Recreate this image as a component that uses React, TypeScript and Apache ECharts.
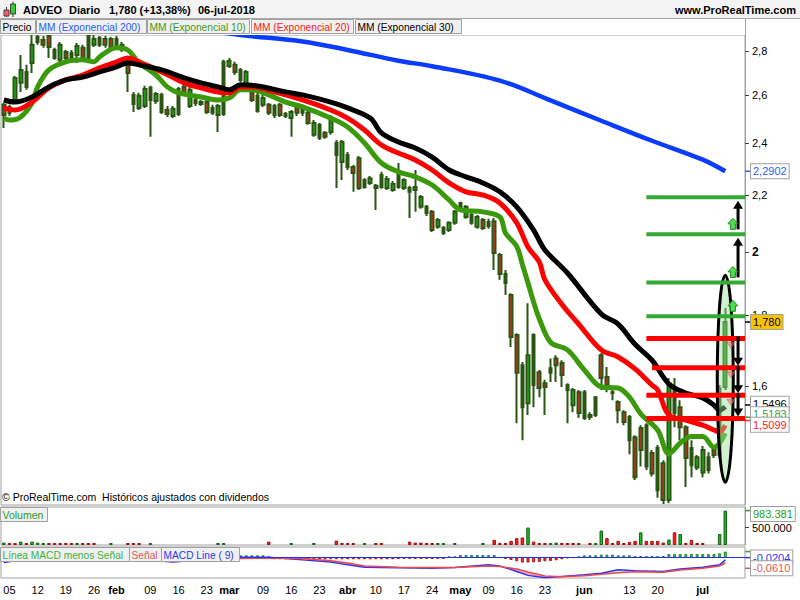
import React, { useEffect, useRef } from "react";
import * as echarts from "echarts";

const FONT = '"Liberation Sans", Arial, Helvetica, sans-serif';

// ---------- categories (BME trading days, 2018) ----------
const tradingDays: [number, number[]][] = [
  [1, [4, 5, 8, 9, 10, 11, 12, 15, 16, 17, 18, 19, 22, 23, 24, 25, 26, 29, 30, 31]],
  [2, [1, 2, 5, 6, 7, 8, 9, 12, 13, 14, 15, 16, 19, 20, 21, 22, 23, 26, 27, 28]],
  [3, [1, 2, 5, 6, 7, 8, 9, 12, 13, 14, 15, 16, 19, 20, 21, 22, 23, 26, 27, 28, 29]],
  [4, [3, 4, 5, 6, 9, 10, 11, 12, 13, 16, 17, 18, 19, 20, 23, 24, 25, 26, 27, 30]],
  [5, [2, 3, 4, 7, 8, 9, 10, 11, 14, 15, 16, 17, 18, 21, 22, 23, 24, 25, 28, 29, 30, 31]],
  [6, [1, 4, 5, 6, 7, 8, 11, 12, 13, 14, 15, 18, 19, 20, 21, 22, 25, 26, 27, 28, 29]],
  [7, [2, 3, 4, 5, 6, 9, 10, 11]],
];
const pad = (n: number) => String(n).padStart(2, "0");
const categories: string[] = tradingDays.flatMap(([m, ds]) => ds.map((d) => `2018-${pad(m)}-${pad(d)}`));

const xTickLabels: [string, string][] = [
  ["2018-01-05", "05"], ["2018-01-12", "12"], ["2018-01-19", "19"], ["2018-01-26", "26"],
  ["2018-02-01", "feb"], ["2018-02-09", "09"], ["2018-02-16", "16"], ["2018-02-23", "23"],
  ["2018-03-01", "mar"], ["2018-03-09", "09"], ["2018-03-16", "16"], ["2018-03-23", "23"],
  ["2018-04-03", "abr"], ["2018-04-10", "10"], ["2018-04-17", "17"], ["2018-04-24", "24"],
  ["2018-05-02", "may"], ["2018-05-09", "09"], ["2018-05-16", "16"], ["2018-05-23", "23"],
  ["2018-06-01", "jun"], ["2018-06-13", "13"], ["2018-06-20", "20"], ["2018-07-02", "jul"],
];
const monthNames = ["feb", "mar", "abr", "may", "jun", "jul"];

// ---------- price data: [open, close, low, high] ----------
const candles: number[][] = [
  [2.559, 2.516, 2.462, 2.567], [2.525, 2.550, 2.512, 2.559], [2.580, 2.677, 2.576, 2.686], [2.655, 2.713, 2.615, 2.782],
  [2.637, 2.704, 2.624, 2.736], [2.745, 2.829, 2.699, 2.876], [2.842, 2.866, 2.829, 2.876], [2.852, 2.829, 2.815, 2.871],
  [2.871, 2.819, 2.768, 2.876], [2.768, 2.805, 2.759, 2.815], [2.759, 2.829, 2.745, 2.843], [2.796, 2.768, 2.750, 2.805],
  [2.759, 2.791, 2.750, 2.805], [2.782, 2.824, 2.745, 2.838], [2.815, 2.768, 2.759, 2.829], [2.768, 2.871, 2.759, 2.881],
  [2.829, 2.857, 2.819, 2.876], [2.862, 2.829, 2.819, 2.871], [2.857, 2.829, 2.815, 2.871], [2.857, 2.819, 2.805, 2.866],
  [2.815, 2.857, 2.805, 2.871], [2.829, 2.815, 2.796, 2.843], [2.750, 2.699, 2.615, 2.768], [2.563, 2.602, 2.529, 2.615],
  [2.546, 2.598, 2.537, 2.611], [2.554, 2.628, 2.546, 2.642], [2.633, 2.580, 2.426, 2.642], [2.576, 2.606, 2.563, 2.615],
  [2.602, 2.529, 2.520, 2.611], [2.537, 2.520, 2.508, 2.554], [2.512, 2.542, 2.503, 2.554], [2.520, 2.628, 2.512, 2.637],
  [2.637, 2.611, 2.602, 2.646], [2.554, 2.624, 2.546, 2.637], [2.580, 2.567, 2.554, 2.589], [2.571, 2.563, 2.554, 2.580],
  [2.571, 2.529, 2.520, 2.580], [2.525, 2.546, 2.516, 2.559], [2.516, 2.554, 2.446, 2.563], [2.520, 2.750, 2.512, 2.759],
  [2.731, 2.754, 2.722, 2.768], [2.736, 2.704, 2.690, 2.750], [2.713, 2.668, 2.659, 2.722], [2.624, 2.704, 2.615, 2.713],
  [2.615, 2.580, 2.571, 2.624], [2.533, 2.598, 2.525, 2.611], [2.559, 2.589, 2.550, 2.602], [2.559, 2.525, 2.516, 2.567],
  [2.554, 2.516, 2.503, 2.563], [2.559, 2.516, 2.508, 2.567], [2.520, 2.512, 2.503, 2.529], [2.503, 2.529, 2.426, 2.537],
  [2.554, 2.525, 2.512, 2.563], [2.550, 2.525, 2.512, 2.559], [2.525, 2.483, 2.475, 2.533], [2.434, 2.483, 2.426, 2.495],
  [2.475, 2.422, 2.413, 2.483], [2.442, 2.426, 2.418, 2.450], [2.446, 2.495, 2.434, 2.516], [2.401, 2.353, 2.227, 2.413],
  [2.326, 2.405, 2.257, 2.413], [2.353, 2.307, 2.295, 2.365], [2.307, 2.284, 2.213, 2.314], [2.341, 2.227, 2.220, 2.349],
  [2.231, 2.257, 2.224, 2.264], [2.246, 2.264, 2.238, 2.272], [2.235, 2.227, 2.147, 2.242], [2.231, 2.276, 2.224, 2.288],
  [2.227, 2.261, 2.220, 2.272], [2.220, 2.242, 2.213, 2.253], [2.276, 2.231, 2.224, 2.322], [2.227, 2.257, 2.220, 2.264],
  [2.227, 2.213, 2.118, 2.235], [2.220, 2.231, 2.140, 2.295], [2.158, 2.194, 2.151, 2.201], [2.136, 2.158, 2.125, 2.165],
  [2.140, 2.076, 2.069, 2.147], [2.087, 2.111, 2.080, 2.118], [2.066, 2.083, 2.059, 2.090], [2.076, 2.101, 2.069, 2.107],
  [2.101, 2.140, 2.094, 2.147], [2.172, 2.154, 2.140, 2.176], [2.122, 2.158, 2.115, 2.165], [2.101, 2.129, 2.094, 2.136],
  [2.087, 2.122, 2.080, 2.129], [2.111, 2.083, 2.076, 2.118], [2.104, 2.090, 2.080, 2.115], [2.107, 1.998, 1.942, 2.118],
  [1.991, 1.929, 1.910, 1.998], [1.929, 1.900, 1.862, 1.942], [1.862, 1.736, 1.707, 1.868], [1.742, 1.635, 1.503, 1.747],
  [1.656, 1.544, 1.461, 1.665], [1.554, 1.684, 1.524, 1.837], [1.742, 1.602, 1.544, 1.747], [1.637, 1.594, 1.570, 1.643],
  [1.607, 1.597, 1.524, 1.616], [1.635, 1.648, 1.610, 1.675], [1.675, 1.656, 1.610, 1.684], [1.662, 1.629, 1.597, 1.670],
  [1.602, 1.589, 1.503, 1.607], [1.549, 1.589, 1.531, 1.594], [1.583, 1.529, 1.516, 1.589], [1.583, 1.516, 1.511, 1.589],
  [1.519, 1.524, 1.511, 1.531], [1.524, 1.570, 1.519, 1.573], [1.684, 1.621, 1.589, 1.690], [1.624, 1.602, 1.583, 1.651],
  [1.583, 1.581, 1.562, 1.594], [1.557, 1.536, 1.503, 1.562], [1.531, 1.506, 1.498, 1.536], [1.519, 1.461, 1.427, 1.524],
  [1.468, 1.373, 1.367, 1.473], [1.491, 1.437, 1.398, 1.498], [1.498, 1.398, 1.390, 1.503], [1.430, 1.382, 1.375, 1.437],
  [1.442, 1.344, 1.327, 1.449], [1.406, 1.322, 1.313, 1.413], [1.322, 1.607, 1.315, 1.621], [1.589, 1.529, 1.493, 1.621],
  [1.544, 1.493, 1.461, 1.562], [1.493, 1.418, 1.351, 1.498], [1.401, 1.442, 1.373, 1.461], [1.396, 1.420, 1.390, 1.425],
  [1.384, 1.437, 1.373, 1.447], [1.390, 1.420, 1.382, 1.432], [1.437, 1.425, 1.418, 1.447], [1.425, 1.592, 1.418, 1.602],
  [1.597, 1.780, 1.589, 1.822],
];

// ---------- moving averages: [bar index, value] ----------
const ema200: number[][] = [
  [35, 2.905], [42, 2.876], [53, 2.845], [61, 2.805], [70, 2.755], [76, 2.730], [88, 2.665], [97, 2.578],
  [106, 2.492], [115, 2.410], [124, 2.335], [128, 2.290],
];
const ema10: number[][] = [
  [0, 2.503], [1, 2.495], [3, 2.508], [5, 2.567], [6, 2.637], [8, 2.713], [11, 2.750], [14, 2.759], [16, 2.750],
  [17, 2.773], [20, 2.815], [22, 2.805], [24, 2.745], [27, 2.690], [29, 2.637], [31, 2.611], [35, 2.593], [38, 2.580],
  [40, 2.589], [42, 2.624], [44, 2.624], [47, 2.602], [50, 2.571], [53, 2.550], [58, 2.503], [61, 2.466], [64, 2.401],
  [67, 2.322], [70, 2.288], [73, 2.269], [76, 2.238], [79, 2.183], [81, 2.147], [85, 2.140], [88, 2.122], [89, 2.066],
  [91, 2.020], [92, 1.960], [93, 1.900], [94, 1.840], [95, 1.790], [97, 1.721], [100, 1.699], [103, 1.643], [106, 1.597],
  [109, 1.594], [111, 1.570], [113, 1.527], [116, 1.486], [118, 1.428], [120, 1.454], [122, 1.470], [124, 1.470],
  [126, 1.444], [127, 1.454], [128, 1.478],
];
const ema20: number[][] = [
  [0, 2.546], [2, 2.537], [5, 2.571], [8, 2.633], [11, 2.668], [14, 2.690], [17, 2.722], [20, 2.750], [22, 2.768],
  [24, 2.750], [28, 2.704], [32, 2.655], [35, 2.633], [38, 2.615], [40, 2.611], [42, 2.637], [44, 2.637], [48, 2.615],
  [53, 2.580], [58, 2.537], [61, 2.503], [64, 2.454], [67, 2.393], [70, 2.361], [73, 2.334], [76, 2.295], [79, 2.246],
  [82, 2.213], [85, 2.201], [88, 2.172], [91, 2.101], [93, 2.018], [95, 1.968], [96, 1.910], [99, 1.834], [102, 1.774],
  [106, 1.699], [109, 1.679], [112, 1.646], [115, 1.602], [116, 1.589], [118, 1.524], [121, 1.511], [124, 1.498],
  [126, 1.486], [127, 1.481], [128, 1.498],
];
const ema30: number[][] = [
  [0, 2.580], [2, 2.571], [5, 2.593], [8, 2.637], [11, 2.668], [14, 2.681], [17, 2.704], [20, 2.727], [22, 2.745],
  [24, 2.736], [28, 2.713], [32, 2.677], [35, 2.655], [38, 2.637], [40, 2.624], [42, 2.646], [45, 2.641], [50, 2.615],
  [53, 2.602], [58, 2.571], [61, 2.546], [65, 2.503], [67, 2.442], [70, 2.405], [73, 2.381], [76, 2.345], [79, 2.295],
  [82, 2.269], [85, 2.246], [88, 2.213], [91, 2.158], [94, 2.076], [96, 2.008], [100, 1.932], [106, 1.804], [109, 1.774],
  [112, 1.715], [115, 1.670], [118, 1.605], [121, 1.581], [124, 1.568], [126, 1.549], [127, 1.536], [128, 1.545],
];

// ---------- volume ----------
const volumes: number[] = [
  68000, 38000, 50000, 97000, 50000, 97000, 68000, 38000, 29000, 20000,
  20000, 20000, 20000, 20000, 20000, 20000, 20000, 0, 0, 20000,
  0, 0, 20000, 20000, 20000, 0, 20000, 0, 0, 0,
  0, 0, 0, 0, 0, 0, 0, 0, 20000, 20000,
  0, 0, 0, 0, 0, 0, 0, 97000, 0, 0,
  0, 20000, 0, 0, 0, 20000, 0, 0, 0, 126000,
  20000, 20000, 20000, 0, 20000, 0, 20000, 20000, 0, 0,
  0, 0, 97000, 68000, 68000, 38000, 50000, 20000, 20000, 0,
  20000, 0, 0, 0, 0, 20000, 0, 147000, 50000, 50000,
  118000, 197000, 215000, 500000, 97000, 50000, 29000, 50000, 68000, 29000,
  20000, 20000, 20000, 0, 29000, 29000, 412000, 197000, 50000, 118000,
  50000, 88000, 118000, 362000, 118000, 118000, 118000, 68000, 156000, 362000,
  315000, 50000, 147000, 38000, 29000, 0, 0, 315000, 983381,
];
const volumeDirection =
  "udduduuudd" + "dddudddddu" + "dddddduddd" + "dddddddduu" + "dddddddddd" + "dudddudddd" +
  "dddduddddd" + "ddddddduud" + "uddddudddd" + "ddduddduud" + "ddddduuddd" + "ddduddddud" + "udddddduu";

// ---------- MACD ----------
const macdHist: number[] = [
  0.005, 0.005, 0.005, 0.005, 0.005, 0.005, 0.005, 0.005, 0.005, 0.005,
  0.005, 0.005, 0.005, 0.005, 0.005, 0.005, 0.005, 0.005, 0.005, 0.005,
  0.005, -0.005, -0.005, -0.005, -0.005, -0.005, -0.005, -0.005, -0.005, -0.005,
  -0.005, -0.005, -0.005, -0.005, -0.005, -0.005, -0.005, -0.005, -0.005, -0.005,
  -0.005, -0.005, 0.014, 0.014, 0.014, 0.014, 0.014, 0.003, -0.014, -0.014,
  -0.014, -0.014, -0.014, -0.014, -0.014, -0.014, -0.014, -0.014, -0.014, -0.014,
  -0.014, -0.014, -0.014, -0.014, -0.014, -0.014, -0.014, -0.014, -0.014, -0.014,
  -0.012, -0.012, -0.012, -0.012, -0.012, -0.012, -0.012, -0.012, -0.012, 0.004,
  0.004, 0.016, 0.016, 0.016, 0.016, 0.016, 0.016, 0.016, -0.004, -0.012,
  -0.019, -0.028, -0.037, -0.037, -0.035, -0.033, -0.028, -0.026, -0.021, -0.014,
  -0.007, -0.004, 0.003, 0.014, 0.014, 0.014, 0.019, 0.019, 0.019, 0.014,
  0.014, 0.014, 0.009, 0.009, 0.009, 0.009, 0.009, 0.009, 0.023, 0.023,
  0.023, 0.023, 0.023, 0.023, 0.023, 0.023, 0.023, 0.028, 0.040,
];
const macdIdx = [0, 3, 15, 30, 42, 47, 53, 58, 61, 64, 70, 76, 80, 86, 88, 91, 93, 96, 99, 103, 106, 109, 112, 117, 120, 124, 127, 128];
const macdLine = [-0.039, -0.029, -0.012, -0.037, -0.019, -0.019, -0.029, -0.037, -0.048, -0.057, -0.059, -0.061, -0.058, -0.048,
  -0.052, -0.073, -0.088, -0.097, -0.092, -0.086, -0.080, -0.067, -0.070, -0.073, -0.064, -0.057, -0.048, -0.029];
const signalLine = [-0.033, -0.030, -0.018, -0.030, -0.024, -0.022, -0.024, -0.032, -0.041, -0.052, -0.057, -0.058, -0.058, -0.052,
  -0.054, -0.064, -0.075, -0.090, -0.093, -0.089, -0.084, -0.078, -0.074, -0.076, -0.068, -0.061, -0.052, -0.041];

// ---------- axis values ----------
const priceTicks = [1.6, 1.8, 2, 2.2, 2.4, 2.6, 2.8];
const priceRange = [1.311, 2.876];
const volumeTicks = [500000];
const volumeMax = 1086000;
const histRange = [-0.1449, 0.0721];
const macdRange = [-0.098, 0.02];

// ---------- drawn levels ----------
const greenLevels = [2.193, 2.061, 1.902, 1.797];
const redLevels = [1.732, 1.649, 1.575, 1.515];
const greenLevelStart = [114, 114, 114, 114];
const redLevelStart = [114, 115, 114, 114];
const ellipseRange = [1.362, 1.925];

// ---------- last-value labels ----------
const lastValues = [2.2902, 1.78, 1.5496, 1.5183, 1.5099];
const lastValueTexts = ["2,2902", "1,780", "1,5496", "1,5183", "1,5099"];
const volumeLast = 983381;
const macdLastValues = [-0.0204, -0.061];

const ln = Math.log;
const fmtThousands = (v: number) => String(Math.round(v)).replace(/\B(?=(\d{3})+(?!\d))/g, ".");

function buildOption(): any {
  const tickMap = new Map(xTickLabels);
  const xAxisBase = (gi: number, showLabels: boolean) => ({
    type: "category",
    gridIndex: gi,
    data: categories,
    boundaryGap: true,
    axisLine: { show: false },
    axisTick: { show: false },
    splitLine: { show: false },
    axisLabel: showLabels
      ? {
          show: true,
          interval: (_i: number, v: string) => tickMap.has(v),
          formatter: (v: string) => {
            const t = tickMap.get(v) || "";
            return monthNames.includes(t) ? `{b|${t}}` : t;
          },
          color: "#000",
          fontSize: 11,
          fontFamily: FONT,
          margin: 6,
          rich: { b: { fontWeight: "bold", fontSize: 11, fontFamily: FONT, color: "#000" } },
        }
      : { show: false },
  });
  const gridStyle = { show: true, borderColor: "#a0a0a0", borderWidth: 1, backgroundColor: "rgba(0,0,0,0)" };
  const upC = "#18d018";
  const dnC = "#ff2424";

  return {
    animation: false,
    backgroundColor: "#ffffff",
    textStyle: { fontFamily: FONT },
    grid: [
      { left: 1, top: 35, width: 744, height: 470, ...gridStyle },
      { left: 1, top: 507, width: 744, height: 38, ...gridStyle },
      { left: 1, top: 547, width: 744, height: 31, ...gridStyle },
    ],
    xAxis: [xAxisBase(0, false), xAxisBase(1, false), xAxisBase(2, true)],
    yAxis: [
      {
        type: "value",
        gridIndex: 0,
        position: "right",
        min: ln(priceRange[0]),
        max: ln(priceRange[1]),
        splitLine: { show: false },
        axisLine: { show: true, lineStyle: { color: "#a0a0a0" } },
        axisTick: { show: true, length: 4, customValues: priceTicks.map(ln), lineStyle: { color: "#444" } },
        axisLabel: {
          customValues: priceTicks.map(ln),
          formatter: (v: number) => {
            const p = Math.round(Math.exp(v) * 10) / 10;
            return p === 2 ? "{b|2}" : String(p).replace(".", ",");
          },
          color: "#000",
          fontSize: 11,
          fontFamily: FONT,
          margin: 7,
          rich: { b: { fontWeight: "bold", fontSize: 12, fontFamily: FONT, color: "#000" } },
        },
      },
      {
        type: "value",
        gridIndex: 1,
        position: "right",
        min: 0,
        max: volumeMax,
        splitLine: { show: false },
        axisLine: { show: true, lineStyle: { color: "#a0a0a0" } },
        axisTick: { show: true, length: 4, customValues: volumeTicks, lineStyle: { color: "#444" } },
        axisLabel: {
          customValues: volumeTicks,
          formatter: (v: number) => fmtThousands(v),
          color: "#000",
          fontSize: 11,
          fontFamily: FONT,
          margin: 7,
        },
      },
      { type: "value", gridIndex: 2, min: histRange[0], max: histRange[1], show: false, splitLine: { show: false } },
      { type: "value", gridIndex: 2, min: macdRange[0], max: macdRange[1], show: false, splitLine: { show: false } },
    ],
    series: [
      {
        type: "candlestick",
        xAxisIndex: 0,
        yAxisIndex: 0,
        barWidth: 3.2,
        clip: true,
        data: candles.map(([o, c, l, h]) => [ln(o), ln(c), ln(l), ln(h)]),
        itemStyle: { color: upC, color0: dnC, borderColor: "#2a5512", borderColor0: "#2a5512", borderWidth: 2 },
        z: 2,
      },
      {
        type: "line", xAxisIndex: 0, yAxisIndex: 0, data: ema200.map(([i, v]) => [i, ln(v)]),
        smooth: 0.35, symbol: "none", clip: true, lineStyle: { color: "#0a3cff", width: 4.5 }, z: 3,
      },
      {
        type: "line", xAxisIndex: 0, yAxisIndex: 0, data: ema10.map(([i, v]) => [i, ln(v)]),
        smooth: 0.35, symbol: "none", clip: true, lineStyle: { color: "#3a9a0c", width: 5 }, z: 3,
      },
      {
        type: "line", xAxisIndex: 0, yAxisIndex: 0, data: ema20.map(([i, v]) => [i, ln(v)]),
        smooth: 0.35, symbol: "none", clip: true, lineStyle: { color: "#ff0000", width: 5 }, z: 3,
      },
      {
        type: "line", xAxisIndex: 0, yAxisIndex: 0, data: ema30.map(([i, v]) => [i, ln(v)]),
        smooth: 0.35, symbol: "none", clip: true, lineStyle: { color: "#000000", width: 5 }, z: 3,
      },
      {
        type: "bar",
        xAxisIndex: 1,
        yAxisIndex: 1,
        barWidth: 3.5,
        barMinHeight: 2,
        data: volumes.map((v, i) =>
          v > 0
            ? {
                value: v,
                itemStyle: volumeDirection[i] === "u"
                  ? { color: "#22b422", borderColor: "#146414", borderWidth: 1 }
                  : { color: "#ff2020", borderColor: "#a01010", borderWidth: 1 },
              }
            : "-"
        ),
      },
      {
        type: "custom",
        xAxisIndex: 2,
        yAxisIndex: 3,
        data: macdIdx.map((x, k) => [x, macdLine[k], signalLine[k]]),
        encode: { x: 0, y: [1, 2] },
        renderItem: (params: any, api: any) => {
          const k = params.dataIndex;
          if (k >= macdIdx.length - 1) return null;
          const m1 = api.coord([macdIdx[k], macdLine[k]]);
          const m2 = api.coord([macdIdx[k + 1], macdLine[k + 1]]);
          const s1 = api.coord([macdIdx[k], signalLine[k]]);
          const s2 = api.coord([macdIdx[k + 1], signalLine[k + 1]]);
          const diff = signalLine[k] + signalLine[k + 1] - macdLine[k] - macdLine[k + 1];
          return {
            type: "polygon",
            shape: { points: [m1, m2, s2, s1] },
            style: { fill: diff > 0 ? "rgba(235,100,100,0.55)" : "rgba(110,215,110,0.45)" },
          };
        },
        z: 1,
      },
      {
        type: "bar",
        xAxisIndex: 2,
        yAxisIndex: 2,
        barWidth: 3,
        data: macdHist.map((v) => ({
          value: v,
          itemStyle: v >= 0
            ? { color: "#3cd43c", borderColor: "#1f8a1f", borderWidth: 1 }
            : { color: "#ff3030", borderColor: "#a82020", borderWidth: 1 },
        })),
        markLine: {
          silent: true,
          symbol: "none",
          label: { show: false },
          lineStyle: { color: "#2a2aff", width: 1.2, type: "solid" },
          data: [{ yAxis: 0 }],
        },
        z: 2,
      },
      {
        type: "line", xAxisIndex: 2, yAxisIndex: 3, data: macdIdx.map((x, k) => [x, macdLine[k]]),
        symbol: "none", lineStyle: { color: "#3030ff", width: 1.5 }, z: 3,
      },
      {
        type: "line", xAxisIndex: 2, yAxisIndex: 3, data: macdIdx.map((x, k) => [x, signalLine[k]]),
        symbol: "none", lineStyle: { color: "#f04848", width: 1.5 }, z: 3,
      },
    ],
  };
}

function buildGraphic(chart: any): any[] {
  const P = (i: number, price: number) =>
    chart.convertToPixel({ xAxisIndex: 0, yAxisIndex: 0 }, [i, ln(price)]) as number[];
  const band = P(1, 2)[0] - P(0, 2)[0];
  const rightEdge = P(categories.length - 1, 2)[0] + band / 2;
  const els: any[] = [];
  const Z = 100;

  const rect = (x: number, y: number, w: number, h: number, fill: string, stroke?: string, z = Z) =>
    els.push({ type: "rect", z, shape: { x, y, width: w, height: h }, style: { fill, stroke: stroke || null, lineWidth: 1 } });
  const line = (x1: number, y1: number, x2: number, y2: number, stroke: string, w: number, z = Z) =>
    els.push({ type: "line", z, shape: { x1, y1, x2, y2 }, style: { stroke, lineWidth: w } });
  const poly = (pts: number[][], fill: string, stroke?: string, z = Z + 1) =>
    els.push({ type: "polygon", z, shape: { points: pts }, style: { fill, stroke: stroke || null, lineWidth: 1 } });
  const text = (x: number, y: number, t: string, o: any = {}) =>
    els.push({
      type: "text",
      z: o.z ?? Z + 2,
      x,
      y,
      style: {
        text: t,
        fill: o.color || "#000",
        font: `${o.bold ? "bold " : ""}${o.size || 11}px ${FONT}`,
        align: o.align || "left",
        verticalAlign: "middle",
        textAlign: o.align || "left",
        textVerticalAlign: "middle",
        backgroundColor: o.bg,
        borderColor: o.border,
        borderWidth: o.border ? 1 : 0,
        padding: o.bg ? [2, 2, 1, 2] : 0,
      },
    });

  // header
  rect(0, 0, 800, 18, "#f3f3f3");
  line(0, 18.5, 800, 18.5, "#a8a8a8", 1);
  // icon
  line(6.5, 7, 6.5, 17, "#333", 1);
  rect(4, 10, 5, 6, "#ff5a5a", "#444");
  line(13, 1.5, 13, 17, "#333", 1);
  rect(10.5, 4, 5, 10, "#2cd02c", "#444");
  text(23, 10, "ADVEO", { bold: true });
  text(69, 10, "Diario", { bold: true });
  text(109, 10, "1,780 (+13,38%)", { bold: true });
  text(198, 10, "06-jul-2018", { bold: true });
  text(796, 10, "www.ProRealTime.com", { bold: true, align: "right" });

  // legend row
  rect(0, 19, 800, 16, "#ffffff");
  const legendBoxes: [number, number, string, string][] = [
    [0, 35, "Precio", "#000000"],
    [36, 110, "MM (Exponencial 200)", "#2a5cff"],
    [147, 102, "MM (Exponencial 10)", "#3d9a1f"],
    [251, 102, "MM (Exponencial 20)", "#ff1a1a"],
    [355, 106, "MM (Exponencial 30)", "#000000"],
  ];
  legendBoxes.forEach(([x, w, t, c]) => {
    rect(x + 0.5, 19.5, w, 14, "#f0f0f0", "#a0a0a0");
    text(x + 2.5, 27, t, { color: c, size: 10.2 });
  });
  line(745.5, 19, 745.5, 35, "#a0a0a0", 1);

  // footer text in price panel
  text(2, 497, "\u00a9 ProRealTime.com  Hist\u00f3ricos ajustados con dividendos", { size: 10.5 });

  // volume legend
  rect(0.5, 507.5, 47, 14, "#f0f0f0", "#a0a0a0");
  text(2.5, 515, "Volumen", { color: "#2a9a2a", size: 10.5 });
  // macd legend
  const macdBoxes: [number, number, string, string][] = [
    [0, 129, "L\u00ednea MACD menos Se\u00f1al", "#3cb43c"],
    [129, 32, "Se\u00f1al", "#e05a5a"],
    [161, 78, "MACD Line ( 9)", "#2a3aee"],
  ];
  macdBoxes.forEach(([x, w, t, c]) => {
    rect(x + 0.5, 547.5, w, 14, "#f0f0f0", "#a0a0a0");
    text(x + 2.5, 555, t, { color: c, size: 10.2 });
  });

  // ellipse around the last bar
  const eTop = P(128, ellipseRange[1]);
  const eBot = P(128, ellipseRange[0]);
  els.push({
    type: "ellipse",
    z: Z - 1,
    shape: { cx: eTop[0], cy: (eTop[1] + eBot[1]) / 2, rx: 8, ry: (eBot[1] - eTop[1]) / 2 },
    style: { fill: "rgba(150,225,150,0.45)", stroke: "#000", lineWidth: 3 },
  });

  // horizontal levels
  const gY = greenLevels.map((v) => P(0, v)[1]);
  const rY = redLevels.map((v) => P(0, v)[1]);
  greenLevels.forEach((v, k) => line(P(greenLevelStart[k], v)[0], gY[k], rightEdge, gY[k], "#33aa33", 4));
  redLevels.forEach((v, k) => line(P(redLevelStart[k], v)[0], rY[k], rightEdge, rY[k], "#ff0000", 5));

  // arrows
  const ax = P(130, 2)[0] + 1.5;
  const arrow = (x: number, y1: number, y2: number) => {
    const dir = y2 < y1 ? -1 : 1;
    line(x, y1, x, y2 - dir * 7, "#000", 3, Z + 1);
    poly([[x, y2], [x - 5, y2 - dir * 8], [x + 5, y2 - dir * 8]], "#000");
  };
  for (let k = 0; k < gY.length - 2; k++) arrow(ax, gY[k + 1] - 5, gY[k] + 3.5);
  for (let k = 0; k < rY.length - 1; k++) arrow(ax, rY[k] - 2, rY[k + 1] - 2);

  // small alert icons
  const gx = P(129, 2)[0] + 2;
  for (let k = 1; k < gY.length; k++) {
    const b = gY[k] - 5;
    const t = b - 11;
    poly(
      [[gx, t], [gx + 5, t + 5.5], [gx + 2.5, t + 5.5], [gx + 2.5, b], [gx - 2.5, b], [gx - 2.5, t + 5.5], [gx - 5, t + 5.5]],
      "#4fdc4f",
      "#1e8c1e"
    );
  }
  const rx = P(129, 2)[0];
  for (let k = 0; k < rY.length - 1; k++) {
    const t = rY[k] + 4;
    poly([[rx - 4, t], [rx + 4, t], [rx, t + 6]], "rgba(235,110,110,0.55)", "rgba(200,80,80,0.5)");
  }

  // last value labels on the price axis (spread apart where they collide)
  const lvColors = ["#2a5cff", "#000000", "#000000", "#3aa03a", "#ff2020"];
  const lvBg = ["#ffffff", "#f8c400", "#ffffff", "#ffffff", "#ffffff"];
  const tickYs = lastValues.map((v) => P(0, v)[1]);
  const labelYs = tickYs.slice();
  for (let it = 0; it < 6; it++) {
    for (let k = 1; k < labelYs.length; k++) {
      const gap = labelYs[k] - labelYs[k - 1];
      if (gap < 10.5) {
        const d = (10.5 - gap) / 2;
        labelYs[k - 1] -= d;
        labelYs[k] += d;
      }
    }
  }
  lastValues.forEach((_v, k) => {
    line(745, tickYs[k], 750, tickYs[k], lvColors[k], 1.5);
    text(751, labelYs[k], lastValueTexts[k], { color: lvColors[k], bg: lvBg[k], border: "#a0a0a0" });
  });

  // volume last value
  const vTop = chart.convertToPixel({ xAxisIndex: 1, yAxisIndex: 1 }, [0, volumeMax])[1];
  const vy = chart.convertToPixel({ xAxisIndex: 1, yAxisIndex: 1 }, [0, volumeLast])[1];
  line(745, vy, 750, vy, "#22a022", 1.5);
  text(751, Math.max(vy, vTop + 7), fmtThousands(volumeLast), { color: "#22a022", bg: "#ffffff", border: "#a0a0a0" });

  // MACD last values
  const mColors = ["#2a3aee", "#e05a5a"];
  macdLastValues.forEach((v, k) => {
    const y = chart.convertToPixel({ xAxisIndex: 2, yAxisIndex: 3 }, [0, v])[1];
    line(745, y, 750, y, mColors[k], 1.5);
    text(751, y, String(v.toFixed(4)).replace(".", ","), { color: mColors[k], bg: "#ffffff", border: "#a0a0a0" });
  });
  const hy = chart.convertToPixel({ xAxisIndex: 2, yAxisIndex: 2 }, [0, macdHist[macdHist.length - 1]])[1];
  line(745, hy, 750, hy, "#22b422", 1.5);

  return els;
}

export default function App() {
  const ref = useRef<HTMLDivElement>(null);
  useEffect(() => {
    const el = ref.current;
    if (!el) return;
    const chart = echarts.init(el, null, { renderer: "svg" });
    chart.setOption(buildOption());
    chart.setOption({ graphic: { elements: buildGraphic(chart) } });
    return () => chart.dispose();
  }, []);
  return (
    <div
      ref={ref}
      style={{ position: "fixed", left: 0, top: 0, width: 800, height: 600, background: "#ffffff" }}
    />
  );
}
